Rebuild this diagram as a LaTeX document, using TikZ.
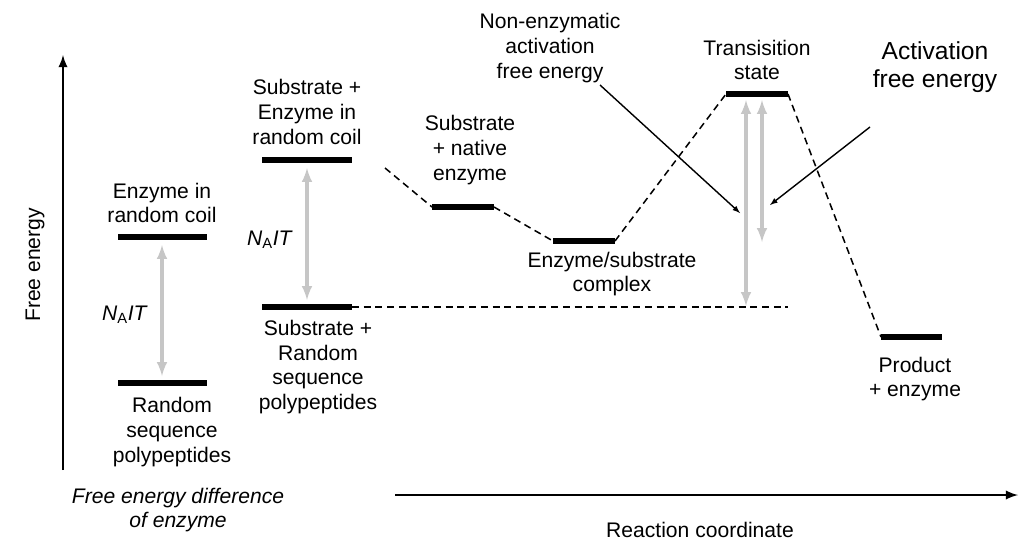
\documentclass[tikz,border=0pt]{standalone}
\usepackage{fontspec}
\setmainfont{Liberation Sans}
\begin{document}
\begin{tikzpicture}[x=0.03cm,y=-0.03cm,
  bar/.style={line width=5pt},
  dsh/.style={dash pattern=on 6pt off 4pt,line width=1.3pt},
  gar/.style={gray!45,line width=3pt,<->,>=latex},
  lab/.style={align=center,font=\fontsize{18}{21}\selectfont},
  ax/.style={line width=2.5pt,-latex}]
\useasboundingbox (0,0) rectangle (1024,550);
\coordinate (yb) at (63,470); \coordinate (yt) at (63,55);
\draw[ax] (yb) -- (yt);
\coordinate (xb) at (395,495); \coordinate (xt) at (1018,495);
\draw[ax] (xb) -- (xt);
\node[lab,rotate=90] (fe) at (35,265) {Free energy};
\node[lab,font=\fontsize{18}{21}\selectfont\itshape] (fd) at (178,510) {Free energy difference\\of enzyme};
\node[lab] (rc) at (700,530) {Reaction coordinate};
% bars
\draw[bar] (118,237) coordinate (a1) -- (207,237) coordinate (a2);
\draw[bar] (118,383) coordinate (b1) -- (207,383) coordinate (b2);
\draw[bar] (262,160) coordinate (c1) -- (352,160) coordinate (c2);
\draw[bar] (262,307) coordinate (d1) -- (352,307) coordinate (d2);
\draw[bar] (432,207) coordinate (e1) -- (494,207) coordinate (e2);
\draw[bar] (553,241) coordinate (f1) -- (615,241) coordinate (f2);
\draw[bar] (726,94) coordinate (g1) -- (788,94) coordinate (g2);
\draw[bar] (881,337) coordinate (h1) -- (942,337) coordinate (h2);
% labels
\node[lab] (la) at (162,203) {Enzyme in\\random coil};
\node[lab] (lb) at (172,432) {Random\\sequence\\polypeptides};
\node[lab] (lc) at (307,112) {Substrate +\\Enzyme in\\random coil};
\node[lab] (ld) at (318,367) {Substrate +\\Random\\sequence\\polypeptides};
\node[lab] (le) at (470,150) {Substrate\\+ native\\enzyme};
\node[lab] (lf) at (612,274) {Enzyme/substrate\\complex};
\node[lab] (lg) at (757,60) {Transisition\\state};
\node[lab] (lh) at (915,379) {Product\\+ enzyme};
\node[lab] (ln) at (550,48) {Non-enzymatic\\activation\\free energy};
\node[lab,font=\fontsize{21}{24}\selectfont] (lact) at (935,67) {Activation\\free energy};
\node[lab] (n1) at (125,315) {\textit{N}\textsubscript{A}\textit{IT}};
\node[lab] (n2) at (270,240) {\textit{N}\textsubscript{A}\textit{IT}};
% gray arrows
\coordinate (p1) at (162,245); \coordinate (p2) at (162,376);
\draw[gar] (p1) -- (p2);
\coordinate (q1) at (307,168); \coordinate (q2) at (307,300);
\draw[gar] (q1) -- (q2);
\coordinate (r1) at (746,100); \coordinate (r2) at (746,306);
\draw[gar] (r1) -- (r2);
\coordinate (s1) at (762,100); \coordinate (s2) at (762,242);
\draw[gar] (s1) -- (s2);
% dashed
\coordinate (c3) at (385,168);
\draw[dsh] (c3) -- (e1);
\draw[dsh] (e2) -- (f1);
\draw[dsh] (f2) -- (g1);
\draw[dsh] (g2) -- (h1);
\coordinate (dd) at (788,307);
\draw[dsh] (d2) -- (dd);
% black pointers
\coordinate (t1) at (600,85); \coordinate (t2) at (740,213);
\draw[line width=1.2pt,-latex] (t1) -- (t2);
\coordinate (u1) at (870,127); \coordinate (u2) at (770,205);
\draw[line width=1.2pt,-latex] (u1) -- (u2);
\end{tikzpicture}
\end{document}
